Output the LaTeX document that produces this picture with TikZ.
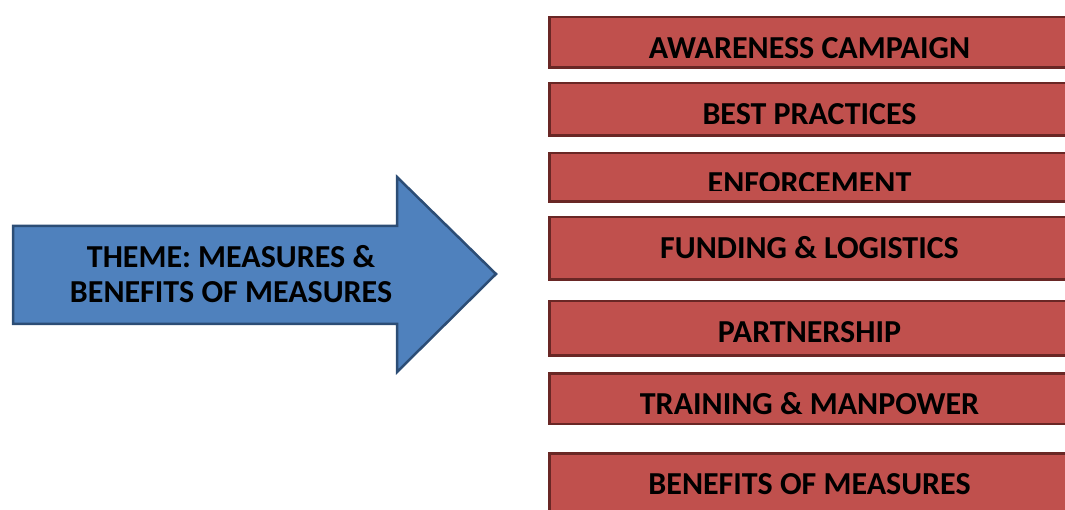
\documentclass[tikz,border=0pt]{standalone}
\usepackage{fontspec}
\setmainfont{Carlito}
\usetikzlibrary{positioning}
\definecolor{barred}{HTML}{C0504D}
\definecolor{baredge}{HTML}{692725}
\definecolor{arrowblue}{HTML}{4F81BD}
\definecolor{arrowedge}{HTML}{2C4D75}

\begin{document}
\begin{tikzpicture}[x=1pt,y=-1pt,
    bigfont/.style={font=\fontsize{32}{35}\selectfont\bfseries},
    bar/.style={bigfont,rectangle,draw=baredge,fill=barred,line width=2.5pt,
      minimum width=520pt,minimum height=0pt,inner sep=0pt,text height=41.5pt},
    theme/.style={bigfont,align=center,inner sep=0pt}]
    \useasboundingbox (0,0) rectangle (1065,510);
    \clip (0,0) rectangle (1065,510);

    % the big arrow on the left
    \draw[fill=arrowblue,draw=arrowedge,line width=2.5pt,line join=miter]
      (13,226) -- (397,226) -- (397,177) -- (496,274) -- (397,372)
      -- (397,324) -- (13,324) -- cycle;
    \node[theme] (theme) at (231,274) {THEME: MEASURES \&\\BENEFITS OF MEASURES};

    % measures, one bar each (they run off the right edge)
    \node[bar,text depth=9pt] (aware) at (809.5,42.5) {AWARENESS CAMPAIGN};
    \node[bar,text depth=11pt] (best) at (809.5,109.5) {BEST PRACTICES};
    \node[bar,text depth=7pt] (enforce) at (809.5,177.5) {};
    \node[bar,text depth=21pt] (funding) at (809.5,248.5) {FUNDING \& LOGISTICS};
    \node[bar,text depth=13pt] (partner) at (809.5,328.5) {PARTNERSHIP};
    \node[bar,text depth=9pt] (training) at (809.5,398.5) {TRAINING \& MANPOWER};
    \node[bar,text depth=22pt] (benefits) at (809.5,485) {BENEFITS OF MEASURES};

    % this one's text runs into the bottom of its bar
    \begin{scope}
      \clip (enforce.north west) rectangle ([yshift=12pt]enforce.south east);
      \node[bigfont,anchor=base,inner sep=0pt] (enforcetext) at (809.5,194) {ENFORCEMENT};
    \end{scope}
\end{tikzpicture}
\end{document}
